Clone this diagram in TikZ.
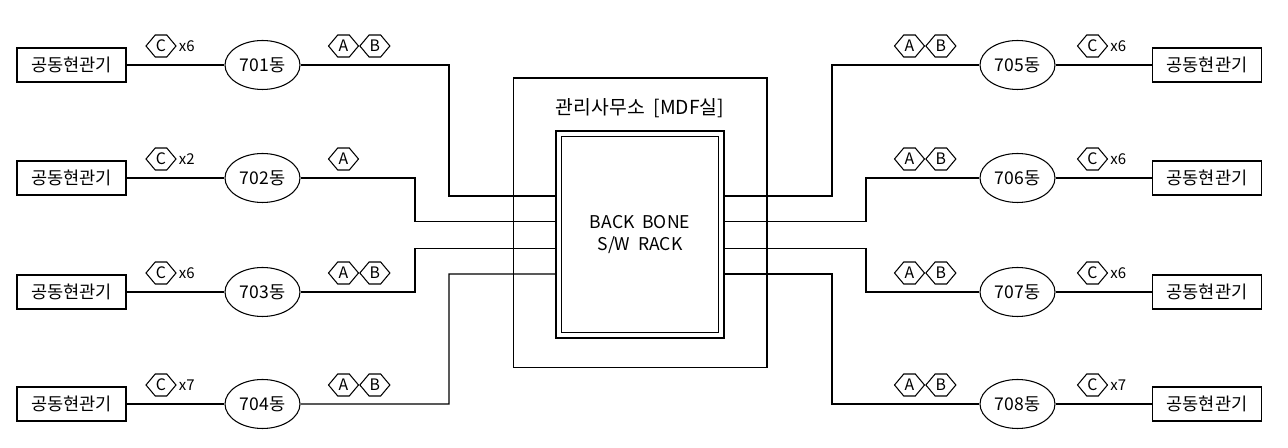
\documentclass[tikz,border=0pt]{standalone}
\usepackage{fontspec}
\setmainfont{Noto Sans CJK KR}
\usetikzlibrary{positioning,shapes.geometric,shapes.symbols,calc}
\tikzset{
  unitbox/.style={draw, rectangle, minimum width=2.18cm, minimum height=0.68cm, inner sep=0pt, font=\fontsize{10}{11}\selectfont},
  dong/.style={draw, ellipse, minimum width=1.5cm, minimum height=0.98cm, inner sep=0pt, font=\fontsize{10}{11}\selectfont},
  cabletag/.style={draw, signal, signal to=east and west, signal pointer angle=100, minimum width=0.6cm, minimum height=0.44cm, inner sep=0pt, font=\fontsize{9}{10}\selectfont},
  qty/.style={inner sep=0pt, font=\fontsize{8.5}{10}\selectfont},
  wire/.style={line width=0.6pt}
}

\begin{document}
\begin{tikzpicture}[x=0.02cm, y=-0.02cm, line width=0.6pt]
\useasboundingbox (0,0) rectangle (1288,448);

% MDF room and backbone rack
\node[draw, minimum width=5.08cm, minimum height=5.8cm] (mdf) at (640,223) {};
\node[font=\fontsize{11}{12}\selectfont] (mdftitle) at (640,108) {관리사무소 \ [MDF실]};
\node[draw, double, double distance=0.08cm, outer sep=0.06cm, minimum width=3.26cm, minimum height=4.04cm, align=center, font=\fontsize{10}{12.5}\selectfont] (rack) at (640,234.5) {BACK\ \ BONE\\S/W\ \ RACK};

\coordinate (pL1) at ($(rack.west)+(0,-38.5)$);
\coordinate (pL2) at ($(rack.west)+(0,-13)$);
\coordinate (pL3) at ($(rack.west)+(0,14)$);
\coordinate (pL4) at ($(rack.west)+(0,39.5)$);
\coordinate (pR1) at ($(rack.east)+(0,-38.5)$);
\coordinate (pR2) at ($(rack.east)+(0,-13)$);
\coordinate (pR3) at ($(rack.east)+(0,14)$);
\coordinate (pR4) at ($(rack.east)+(0,39.5)$);

% left side
\node[unitbox] (g701) at (71.5,65) {공동현관기};
\node[dong] (d701) at (262.5,65) {701동};
\node[cabletag] (c701) at (161,46) {C};
\node[qty, right=1pt of c701] (n701) {x6};
\node[cabletag] (a701) at (343.5,46) {A};
\node[cabletag, right=0pt of a701] (b701) {B};

\node[unitbox] (g702) at (71.5,178) {공동현관기};
\node[dong] (d702) at (262.5,178) {702동};
\node[cabletag] (c702) at (161,159) {C};
\node[qty, right=1pt of c702] (n702) {x2};
\node[cabletag] (a702) at (343.5,159) {A};

\node[unitbox] (g703) at (71.5,292) {공동현관기};
\node[dong] (d703) at (262.5,292) {703동};
\node[cabletag] (c703) at (161,273) {C};
\node[qty, right=1pt of c703] (n703) {x6};
\node[cabletag] (a703) at (343.5,273) {A};
\node[cabletag, right=0pt of a703] (b703) {B};

\node[unitbox] (g704) at (71.5,404) {공동현관기};
\node[dong] (d704) at (262.5,404) {704동};
\node[cabletag] (c704) at (161,385) {C};
\node[qty, right=1pt of c704] (n704) {x7};
\node[cabletag] (a704) at (343.5,385) {A};
\node[cabletag, right=0pt of a704] (b704) {B};

% right side
\node[unitbox] (g705) at (1207,65) {공동현관기};
\node[dong] (d705) at (1017.5,65) {705동};
\node[cabletag] (c705) at (1092.5,46) {C};
\node[qty, right=1pt of c705] (n705) {x6};
\node[cabletag] (a705) at (909.5,46) {A};
\node[cabletag, right=0pt of a705] (b705) {B};

\node[unitbox] (g706) at (1207,178) {공동현관기};
\node[dong] (d706) at (1017.5,178) {706동};
\node[cabletag] (c706) at (1092.5,159) {C};
\node[qty, right=1pt of c706] (n706) {x6};
\node[cabletag] (a706) at (909.5,159) {A};
\node[cabletag, right=0pt of a706] (b706) {B};

\node[unitbox] (g707) at (1207,292) {공동현관기};
\node[dong] (d707) at (1017.5,292) {707동};
\node[cabletag] (c707) at (1092.5,273) {C};
\node[qty, right=1pt of c707] (n707) {x6};
\node[cabletag] (a707) at (909.5,273) {A};
\node[cabletag, right=0pt of a707] (b707) {B};

\node[unitbox] (g708) at (1207,404) {공동현관기};
\node[dong] (d708) at (1017.5,404) {708동};
\node[cabletag] (c708) at (1092.5,385) {C};
\node[qty, right=1pt of c708] (n708) {x7};
\node[cabletag] (a708) at (909.5,385) {A};
\node[cabletag, right=0pt of a708] (b708) {B};

% cables
\draw[wire] (g701) -- (d701);
\draw[wire] (g702) -- (d702);
\draw[wire] (g703) -- (d703);
\draw[wire] (g704) -- (d704);
\draw[wire] (d701) -| (449,196) -- (pL1);
\draw[wire] (d702) -| (415,221.5) -- (pL2);
\draw[wire] (d703) -| (415,248.5) -- (pL3);
\draw[wire] (d704) -| (449,274) -- (pL4);

\draw[wire] (pR1) -| (832,65) -- (d705);
\draw[wire] (pR2) -| (866,178) -- (d706);
\draw[wire] (pR3) -| (866,292) -- (d707);
\draw[wire] (pR4) -| (832,404) -- (d708);
\draw[wire] (d705) -- (g705);
\draw[wire] (d706) -- (g706);
\draw[wire] (d707) -- (g707);
\draw[wire] (d708) -- (g708);
\end{tikzpicture}
\end{document}
